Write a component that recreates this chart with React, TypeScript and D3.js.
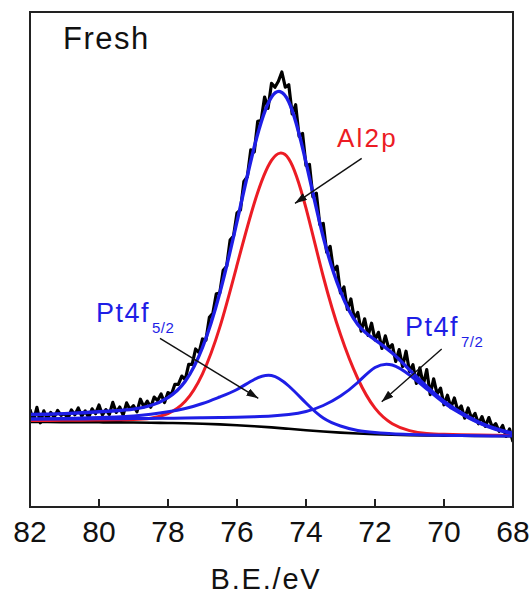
import React from "react";
import * as d3 from "d3";

// Binding energy grid (eV) for fitted curves
const fitBE = [82, 81.5, 81, 80.5, 80, 79.5, 79, 78.5, 78, 77.5, 77, 76.5, 76, 75.5, 75, 74.5, 74, 73.5, 73, 72.5, 72, 71.5, 71, 70.5, 70, 69.5, 69, 68.5, 68];
// Shirley background (a.u.)
const background = [85, 85, 84.9, 84.8, 84.7, 84.6, 84.5, 84.3, 84, 83.7, 83.2, 82.6, 81.8, 80.8, 79.6, 78.2, 76.8, 75.5, 74.4, 73.5, 72.8, 72.3, 71.9, 71.6, 71.4, 71.2, 71.1, 71, 70.9];
// Al2p component
const al2p = [86.5, 86.6, 86.7, 86.8, 87, 87.2, 87.5, 88.8, 93.5, 105.7, 133.2, 179.6, 241.8, 303.8, 346.6, 348.2, 298.8, 230.5, 172.4, 128.5, 98.8, 83.3, 76.4, 73.6, 72.7, 72.2, 71.9, 71.7, 71.5];
// Pt4f5/2 component
const pt4f52 = [88, 88.2, 88.5, 88.9, 89.4, 90, 91, 92.8, 95.2, 98.5, 103.5, 110, 117.5, 127.5, 131.5, 121, 104, 89, 81, 76.5, 74.5, 73.2, 72.5, 72, 71.7, 71.4, 71.2, 71.1, 71];
// Pt4f7/2 component
const pt4f72 = [88, 88, 88, 88.1, 88.2, 88.3, 88.4, 88.5, 88.7, 88.9, 89.2, 89.5, 89.8, 90.3, 91, 92.5, 95.5, 101.5, 111, 124.5, 139.5, 142, 132, 118, 104, 93, 84, 77.5, 73];

// Raw spectrum
const rawBE = [82.0, 81.9, 81.8, 81.7, 81.6, 81.5, 81.4, 81.3, 81.2, 81.1, 81.0, 80.9, 80.8, 80.7, 80.6, 80.5, 80.4, 80.3, 80.2, 80.1, 80.0, 79.9, 79.8, 79.7, 79.6, 79.5, 79.4, 79.3, 79.2, 79.1, 79.0, 78.9, 78.8, 78.7, 78.6, 78.5, 78.4, 78.3, 78.2, 78.1, 78.0, 77.9, 77.8, 77.7, 77.6, 77.5, 77.4, 77.3, 77.2, 77.1, 77.0, 76.9, 76.8, 76.7, 76.6, 76.5, 76.4, 76.3, 76.2, 76.1, 76.0, 75.9, 75.8, 75.7, 75.6, 75.5, 75.4, 75.3, 75.2, 75.1, 75.0, 74.9, 74.8, 74.7, 74.6, 74.5, 74.4, 74.3, 74.2, 74.1, 74.0, 73.9, 73.8, 73.7, 73.6, 73.5, 73.4, 73.3, 73.2, 73.1, 73.0, 72.9, 72.8, 72.7, 72.6, 72.5, 72.4, 72.3, 72.2, 72.1, 72.0, 71.9, 71.8, 71.7, 71.6, 71.5, 71.4, 71.3, 71.2, 71.1, 71.0, 70.9, 70.8, 70.7, 70.6, 70.5, 70.4, 70.3, 70.2, 70.1, 70.0, 69.9, 69.8, 69.7, 69.6, 69.5, 69.4, 69.3, 69.2, 69.1, 69.0, 68.9, 68.8, 68.7, 68.6, 68.5, 68.4, 68.3, 68.2, 68.1, 68.0];
const rawIntensity = [97.5, 85.6, 99.6, 84.2, 96.1, 87.8, 94.6, 89.6, 96.6, 91.6, 93.4, 88.6, 97.1, 92.2, 99, 90.8, 96.1, 89.6, 98.2, 93.3, 102, 92, 97.3, 92.5, 104.6, 94.6, 100, 91.9, 104.1, 97.6, 101.3, 95.2, 107.8, 100.1, 105.8, 99.8, 109.9, 106.4, 113, 104.4, 114.4, 112.7, 122.7, 122.6, 130.9, 127.4, 142.7, 142.6, 158, 154.4, 168, 167, 189.7, 193.8, 213.2, 213.9, 236.7, 240.7, 266.9, 271, 294, 297, 325.6, 330.3, 357.2, 355, 385.6, 386.4, 410, 398.6, 423.6, 419.8, 425.7, 435, 419.8, 422.3, 393, 402.3, 370.6, 373.6, 341.3, 342.6, 310.1, 313.8, 282.3, 283.6, 254.6, 260.6, 236, 240.8, 213.9, 220, 197.6, 208.1, 188.5, 194.5, 175.9, 188.2, 171.5, 183.8, 167.2, 174.7, 158.5, 171.2, 158.3, 162.4, 145.5, 157.4, 140.4, 155.8, 135.4, 142.3, 123.6, 139.1, 122, 137.4, 112.4, 128.1, 113.2, 118.8, 102.2, 111.8, 99.4, 109, 96.5, 101, 88.9, 99, 88.6, 93.6, 83.2, 90.4, 80.6, 89.4, 79.6, 83.3, 75.7, 81.5, 70.6, 78, 65.2];

const xTicks = [82, 80, 78, 76, 74, 72, 70, 68];

const W = 531;
const H = 596;
const M = { left: 30, right: 513, top: 12, bottom: 507 };
const FONT = "Arial, 'Liberation Sans', Helvetica, sans-serif";
const RED = "#ec1c24";
const BLUE = "#1e1ee6";

export default function App() {
  const x = d3.scaleLinear().domain([82, 68]).range([M.left, M.right]);
  const y = d3.scaleLinear().domain([0, 495]).range([M.bottom, M.top]);

  const envelope = fitBE.map((_, i) => al2p[i] + pt4f52[i] + pt4f72[i] - 2 * background[i]);

  const smooth = d3
    .line<number>()
    .x((_, i) => x(fitBE[i]))
    .y((d) => y(d))
    .curve(d3.curveNatural);
  const rawLine = d3
    .line<number>()
    .x((_, i) => x(rawBE[i]))
    .y((d) => y(d));

  const arrows = [
    { x1: 361.7, y1: 158.3, x2: 295, y2: 203.3 },
    { x1: 160, y1: 338.3, x2: 258.3, y2: 398.3 },
    { x1: 441.7, y1: 349, x2: 381.7, y2: 401.7 },
  ];

  return (
    <svg width={W} height={H} style={{ position: "absolute", left: 0, top: 0, background: "#fff" }}>
      <defs>
        <clipPath id="plot">
          <rect x={M.left} y={M.top} width={M.right - M.left} height={M.bottom - M.top} />
        </clipPath>
        <marker id="ah" viewBox="0 0 12 8" refX="12" refY="4" markerWidth="12" markerHeight="8" markerUnits="userSpaceOnUse" orient="auto">
          <path d="M0,0 L12,4 L0,8 Z" fill="#111" />
        </marker>
      </defs>
      <g clipPath="url(#plot)" fill="none" strokeLinejoin="round">
        <path d={rawLine(rawIntensity) || ""} stroke="#000" strokeWidth={3.2} />
        <path d={smooth(background) || ""} stroke="#000" strokeWidth={2.6} />
        <path d={smooth(al2p) || ""} stroke={RED} strokeWidth={3} />
        <path d={smooth(pt4f52) || ""} stroke={BLUE} strokeWidth={3} />
        <path d={smooth(pt4f72) || ""} stroke={BLUE} strokeWidth={3} />
        <path d={smooth(envelope) || ""} stroke={BLUE} strokeWidth={3.4} />
      </g>
      <rect x={M.left} y={M.top} width={M.right - M.left} height={M.bottom - M.top} fill="none" stroke="#222" strokeWidth={2} />
      {xTicks.map((t) => (
        <g key={t}>
          <line x1={x(t)} x2={x(t)} y1={M.bottom} y2={M.bottom - 8} stroke="#222" strokeWidth={2} />
          <text x={x(t)} y={542} textAnchor="middle" fontFamily={FONT} fontSize={30} fill="#111">
            {t}
          </text>
        </g>
      ))}
      <text x={266} y={589} textAnchor="middle" fontFamily={FONT} fontSize={29} letterSpacing={1.8} fill="#111">
        B.E./eV
      </text>
      <text x={63} y={49} fontFamily={FONT} fontSize={31} letterSpacing={1.5} fill="#111">
        Fresh
      </text>
      <text x={337} y={147} fontFamily={FONT} fontSize={26} letterSpacing={2.2} fill={RED}>
        Al2p
      </text>
      <text x={96} y={322} fontFamily={FONT} fontSize={27} letterSpacing={1.5} fill={BLUE}>
        Pt4f
        <tspan fontSize={15} dx={2} dy={11} letterSpacing={0.5}>5/2</tspan>
      </text>
      <text x={405} y={336} fontFamily={FONT} fontSize={27} letterSpacing={1.5} fill={BLUE}>
        Pt4f
        <tspan fontSize={15} dx={2} dy={11} letterSpacing={0.5}>7/2</tspan>
      </text>
      {arrows.map((a, i) => (
        <line key={i} x1={a.x1} y1={a.y1} x2={a.x2} y2={a.y2} stroke="#111" strokeWidth={1.4} markerEnd="url(#ah)" />
      ))}
    </svg>
  );
}
